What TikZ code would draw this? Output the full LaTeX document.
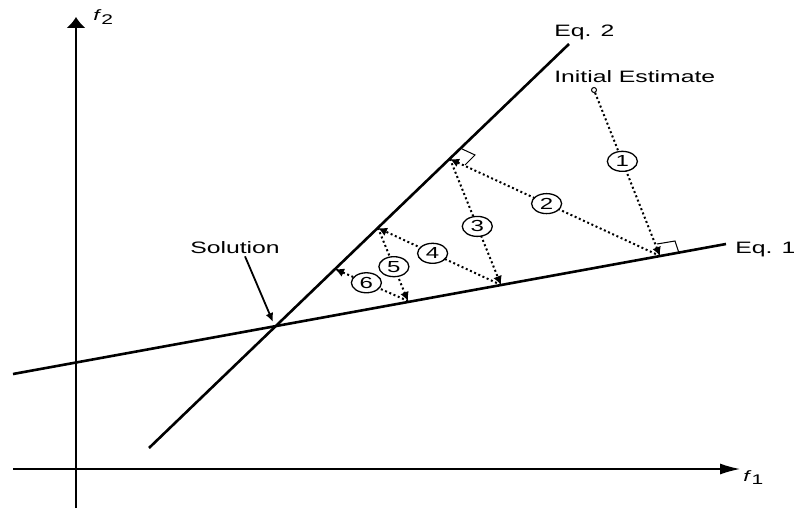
\documentclass[tikz,border=0pt]{standalone}
\usepackage{fontspec}
\setmainfont{Liberation Sans}
\usetikzlibrary{arrows.meta}
\begin{document}
\begin{tikzpicture}[x=1pt,y=-1pt,
  lbl/.style={inner sep=0pt, xscale=1.5, font=\fontsize{16.5}{18}\selectfont},
  flbl/.style={inner sep=0pt, xscale=1.5, font=\fontsize{15}{16}\selectfont},
  eqline/.style={line width=2.6pt},
  axis/.style={line width=1.3pt},
  iter/.style={line width=2pt, dash pattern=on 2pt off 2.6pt, -{Latex[length=9pt,width=9pt]}},
  num/.style={circle, draw, solid, line width=1.3pt, fill=white, minimum size=20pt, inner sep=0pt, xscale=1.5, font=\fontsize{16}{18}\selectfont},
  rmark/.style={line width=1pt}]
\useasboundingbox (0,0) rectangle (794,508);
% axes
\coordinate (yb) at (76,508); \coordinate (yt) at (76,17);
\coordinate (xl) at (13,469); \coordinate (xr) at (740,469);
\draw[axis,-{Latex[length=11pt,width=19pt]}] (yb) -- (yt);
\draw[axis,-{Latex[length=20pt,width=11pt]}] (xl) -- (xr);
\node[flbl, anchor=base west] (f2) at (93,21) {\textit{f}\raisebox{-4pt}{\fontsize{14}{14}\selectfont 2}};
\node[flbl, anchor=base west] (f1) at (743,481) {\textit{f}\raisebox{-3pt}{\fontsize{14}{14}\selectfont 1}};
% equation lines
\coordinate (e1a) at (13,374); \coordinate (e1b) at (726,244);
\coordinate (e2a) at (149,448); \coordinate (e2b) at (569,44);
\draw[eqline] (e1a) -- (e1b);
\draw[eqline] (e2a) -- (e2b);
\node[lbl, anchor=base west] (eq2) at (554,37) {Eq. 2};
\node[lbl, anchor=base west] (eq1) at (735,253) {Eq. 1};
\node[lbl, anchor=base west] (init) at (554,83) {Initial Estimate};
\node[lbl, anchor=base west] (sol) at (190,253) {Solution};
\coordinate (solpt) at (273,322);
\draw[line width=1.8pt, -{Latex[length=9pt,width=8pt]}] ([shift={(10,3)}]sol.south) -- (solpt);
% iteration points
\node[circle, draw, inner sep=0pt, minimum size=5pt, line width=1pt] (p0) at (594,90) {};
\coordinate (p1) at (660,256);
\coordinate (p2) at (450,159);
\coordinate (p3) at (501,285);
\coordinate (p4) at (378,228);
\coordinate (p5) at (408,301);
\coordinate (p6) at (335,269);
% right angle marks
\draw[rmark] (657,244) -- (675,241) -- (679,253);
\draw[rmark] (460,148) -- (475,155) -- (465,165);
% iterations
\draw[iter] (p0) -- (p1) node[num, pos=0.42] (n1) {1};
\draw[iter] (p1) -- (p2) node[num, pos=0.54] (n2) {2};
\draw[iter] (p2) -- (p3) node[num, pos=0.535] (n3) {3};
\draw[iter] (p3) -- (p4) node[num, pos=0.556] (n4) {4};
\draw[iter] (p4) -- (p5) node[num, pos=0.53] (n5) {5};
\draw[iter] (p5) -- (p6) node[num, pos=0.57] (n6) {6};
\end{tikzpicture}
\end{document}
